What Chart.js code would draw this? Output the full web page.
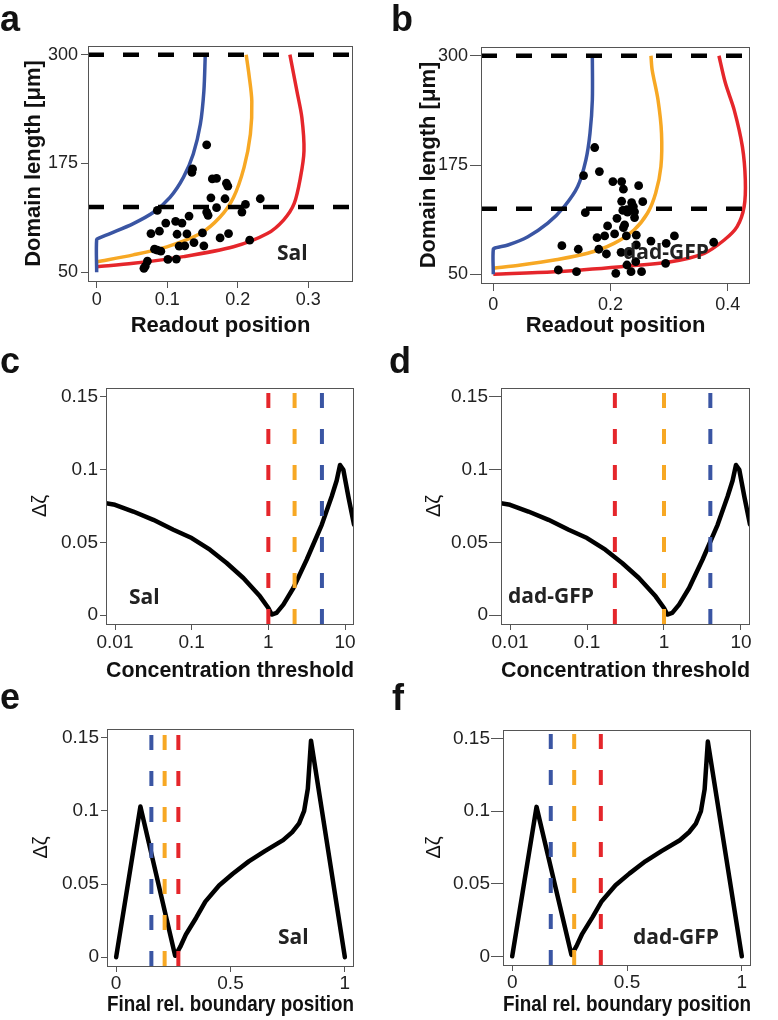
<!DOCTYPE html>
<html><head><meta charset="utf-8">
<script src="https://cdn.jsdelivr.net/npm/chart.js@4.4.1/dist/chart.umd.min.js"></script>
<style>
html,body{margin:0;padding:0;background:#fff;}
body{width:778px;height:1020px;position:relative;overflow:hidden;}
canvas{position:absolute;}
.lbl{position:absolute;white-space:nowrap;line-height:1;}
.letter{font-family:"Liberation Sans",Arial,sans-serif;font-weight:bold;color:#111;}
.tag{font-family:"Open Sans",sans-serif;font-weight:bold;color:#222;}
</style></head><body>
<script>
// ---------- data ----------
const lengthTicks = [50, 175, 300];
const readoutTicksSal = [0, 0.1, 0.2, 0.3];
const readoutTicksDad = [0, 0.2, 0.4];
const thresholdTicks = [0.01, 0.1, 1, 10];
const deltaTicks = [0, 0.05, 0.1, 0.15];
const boundaryTicks = [0, 0.5, 1];
const domainLengthGuides = [125, 300];

const salDotsX = [0.156,0.136,0.135,0.164,0.170,0.184,0.186,0.162,0.182,0.232,0.211,0.206,0.170,0.086,0.156,0.158,0.131,0.098,0.112,0.121,0.077,0.089,0.114,0.128,0.150,0.175,0.187,0.138,0.152,0.217,0.082,0.086,0.091,0.117,0.125,0.101,0.113,0.072,0.067,0.069];
const salDotsY = [196.5,168.7,164.8,157.3,158,152.3,148.9,135.6,134.5,134.5,128,119.2,124.2,121.1,119.2,115.4,114.6,106.6,108.6,106.6,94.5,97.2,93.7,94.1,95.2,89.5,94.5,84.2,80.4,86.9,76.6,75.5,74.3,80,80.4,64.8,65.2,62.9,54.6,57.2];

const dadDotsX = [0.173,0.154,0.181,0.204,0.219,0.222,0.248,0.219,0.236,0.239,0.255,0.157,0.221,0.228,0.236,0.241,0.229,0.211,0.241,0.195,0.224,0.222,0.177,0.190,0.207,0.227,0.244,0.117,0.145,0.180,0.193,0.218,0.244,0.269,0.295,0.309,0.376,0.228,0.243,0.294,0.111,0.142,0.209,0.235,0.253,0.232];
const dadDotsY = [195,162.9,167.5,156,156,147.3,151.4,133.5,132,127.4,133,120.5,123,124,125.5,121.5,121,114,114.8,105.3,106.4,103.3,91.9,93.8,96.1,93.8,94.7,82.7,78.6,78.6,73.2,75.1,83.5,88,85.4,93.8,86.6,60.6,64.4,62.5,54.9,53,51.1,53,53,76];

const salBlueX = [0,0,0.004,0.019,0.052,0.0806,0.104,0.123,0.137,0.147,0.152,0.154];
const salBlueY = [50,87.7,89.6,94.5,106,119,136,159,186,220,258,300];
const salOrangeX = [0,0.052,0.0995,0.147,0.175,0.194,0.209,0.218,0.220,0.216,0.212];
const salOrangeY = [62,70,79.3,94.5,113.5,136,170.6,208.7,246.7,277,300];
const salRedX = [0,0.052,0.123,0.194,0.242,0.265,0.280,0.289,0.294,0.291,0.284,0.274];
const salRedY = [56.5,60.3,68,79.3,94.5,110,128.8,159,189.7,227.7,258,300];

const dadBlueX = [0,0,0.005,0.025,0.059,0.093,0.121,0.144,0.158,0.165,0.169,0.169];
const dadBlueY = [50,78.6,80.4,83.5,93,108.4,127.4,150.3,180.9,211.4,249.6,300];
const dadOrangeX = [0,0.047,0.104,0.161,0.206,0.240,0.263,0.277,0.286,0.287,0.281,0.271,0.269];
const dadOrangeY = [56.8,60.6,66.3,74,85.4,100.7,119.8,142.7,173.2,211.4,249.6,284,300];
const dadRedX = [0,0.104,0.218,0.303,0.360,0.394,0.416,0.428,0.430,0.425,0.411,0.396,0.385];
const dadRedY = [50,52.9,58.7,64.4,74,89.2,104.5,127.4,157.9,196,238.1,268.7,300];

const thresholdX = [0.00763,0.01,0.0173,0.0316,0.0577,0.1,0.173,0.286,0.472,0.778,1.0,1.105,1.28,1.57,2.12,3.16,4.97,6.7,7.79,8.61,9.51,11.05,13.1];
const thresholdDz = [0.0769,0.0758,0.0712,0.0655,0.0587,0.053,0.045,0.0359,0.0256,0.013,0.005,0.0005,0.0016,0.0073,0.0187,0.0381,0.0621,0.0815,0.0925,0.1032,0.0999,0.0815,0.0623];

const boundaryX = [0,0.106,0.258,0.28,0.305,0.35,0.39,0.45,0.51,0.58,0.65,0.73,0.77,0.80,0.822,0.838,0.852,1.0];
const boundaryDz = [0,0.103,0.001,0.007,0.0155,0.027,0.038,0.049,0.057,0.0655,0.0725,0.080,0.0855,0.0915,0.100,0.115,0.148,0];

// marks in order red, orange, blue
const salThresholdMarks = [1, 2.2, 5];
const dadThresholdMarks = [0.23, 1, 4];
const salBoundaryMarks = [0.272, 0.212, 0.154];
const dadBoundaryMarks = [0.386, 0.27, 0.168];

// ---------- styling ----------
const RED = '#e5262b', ORANGE = '#f7a824', BLUE = '#3a55a3';
const markColors = [RED, ORANGE, BLUE];
const FRAME = '#555';
const SANS = '"Liberation Sans", Arial, sans-serif';

const zip = (xs, ys) => xs.map((x, i) => ({x, y: ys[i]}));

const framePlugin = {
  id: 'frame',
  afterDatasetsDraw(chart) {
    const {ctx, chartArea: a} = chart;
    ctx.save();
    ctx.strokeStyle = FRAME; ctx.lineWidth = 1;
    ctx.strokeRect(Math.round(a.left) + 0.5, Math.round(a.top) + 0.5,
                   Math.round(a.right - a.left) - 1, Math.round(a.bottom - a.top));
    ctx.restore();
  }
};

function lineDS(data, color, width, order, extra) {
  return Object.assign({data, showLine: true, borderColor: color, backgroundColor: color,
    borderWidth: width, pointRadius: 0, pointHoverRadius: 0, tension: 0, order, clip: 0}, extra || {});
}

function panel(g, cfg) {
  const c = document.createElement('canvas');
  c.width = g.w; c.height = g.h;
  c.style.left = g.x + 'px'; c.style.top = g.y + 'px';
  document.body.appendChild(c);
  const L = g.L - g.x, T = g.T - g.y, R = g.R - g.x, B = g.B - g.y;
  const pl = g.ytc - g.x - cfg.yTitleSize / 2;
  const Wy = L - pl;
  const Hx = g.h - B;
  const tickFont = {family: SANS, size: cfg.tickSize};
  new Chart(c, {
    type: 'scatter',
    data: {datasets: cfg.datasets},
    options: {
      responsive: false, animation: false, devicePixelRatio: 1,
      events: [],
      layout: {padding: {left: pl, top: T, right: g.w - R, bottom: 0}},
      plugins: {legend: {display: false}, tooltip: {enabled: false}},
      scales: {
        x: {
          type: cfg.xType, min: cfg.xMin, max: cfg.xMax,
          afterBuildTicks: s => { s.ticks = cfg.xTicks.map(v => ({value: v})); },
          afterFit: s => { s.height = Hx; s.paddingLeft = 0; s.paddingRight = 0; },
          ticks: {callback: v => String(v), font: tickFont, color: '#222', padding: cfg.xPad,
                  maxRotation: 0, autoSkip: false},
          grid: {display: true, drawOnChartArea: false, drawTicks: true, tickLength: cfg.xTL,
                 color: FRAME, tickColor: FRAME, tickWidth: 1},
          border: {display: false},
          title: {display: true, text: cfg.xTitle, color: '#111', padding: 0,
                  font: {family: SANS, size: 22, weight: 'bold', lineHeight: 1}}
        },
        y: {
          type: 'linear', min: cfg.yMin, max: cfg.yMax,
          afterBuildTicks: s => { s.ticks = cfg.yTicks.map(v => ({value: v})); },
          afterFit: s => { s.width = Wy; s.paddingTop = 0; s.paddingBottom = 0; },
          ticks: {callback: v => String(v), font: tickFont, color: '#222', padding: cfg.yPad,
                  autoSkip: false},
          grid: {display: true, drawOnChartArea: false, drawTicks: true, tickLength: cfg.yTL,
                 color: FRAME, tickColor: FRAME, tickWidth: 1},
          border: {display: false},
          title: {display: true, text: cfg.yTitle, color: '#111', padding: 0,
                  font: {family: SANS, size: cfg.yTitleSize, weight: cfg.yTitleWeight, lineHeight: 1}}
        }
      }
    },
    plugins: [framePlugin]
  });
}

function readoutDatasets(xMin, xMax, blue, orange, red, dots) {
  const ds = [];
  domainLengthGuides.forEach(v => ds.push(lineDS([{x: xMin, y: v}, {x: xMax, y: v}], '#000', 4.5, 0,
    {borderDash: [16, 19]})));
  ds.push({data: dots, showLine: false, pointRadius: 4.4, pointHoverRadius: 4.4,
           pointBackgroundColor: '#000', pointBorderWidth: 0, order: 1});
  ds.push(lineDS(blue, BLUE, 3.5, 2, {tension: 0.3, borderJoinStyle: 'round'}));
  ds.push(lineDS(orange, ORANGE, 3.5, 2, {tension: 0.3, borderJoinStyle: 'round'}));
  ds.push(lineDS(red, RED, 3.5, 2, {tension: 0.3, borderJoinStyle: 'round'}));
  return ds;
}

function deltaDatasets(curve, marks, yMin, yMax) {
  const ds = [];
  marks.forEach((m, i) => ds.push(lineDS([{x: m, y: yMin}, {x: m, y: yMax}], markColors[i], 4, 0,
    {borderDash: [15, 21]})));
  ds.push(lineDS(curve, '#000', 4.5, 1, {borderJoinStyle: 'round', borderCapStyle: 'round'}));
  return ds;
}

// ---------- panels ----------
const RY = [40, 310];
panel({x: 0, y: 0, w: 389, h: 337, L: 88, T: 46, R: 353, B: 281, ytc: 34}, {
  xType: 'linear', xMin: -0.0123, xMax: 0.3635, xTicks: readoutTicksSal,
  yMin: RY[0], yMax: RY[1], yTicks: lengthTicks,
  xTitle: 'Readout position', yTitle: 'Domain length [μm]', yTitleSize: 22, yTitleWeight: 'bold',
  tickSize: 18, xTL: 7, xPad: 1, yTL: 7, yPad: 3,
  datasets: readoutDatasets(-0.0123, 0.3635, zip(salBlueX, salBlueY), zip(salOrangeX, salOrangeY),
                            zip(salRedX, salRedY), zip(salDotsX, salDotsY))
});
panel({x: 389, y: 0, w: 389, h: 337, L: 481, T: 47, R: 750, B: 283, ytc: 429}, {
  xType: 'linear', xMin: -0.021, xMax: 0.438, xTicks: readoutTicksDad,
  yMin: RY[0], yMax: RY[1], yTicks: lengthTicks,
  xTitle: 'Readout position', yTitle: 'Domain length [μm]', yTitleSize: 22, yTitleWeight: 'bold',
  tickSize: 18, xTL: 8, xPad: 3, yTL: 11, yPad: 2,
  datasets: readoutDatasets(-0.021, 0.438, zip(dadBlueX, dadBlueY), zip(dadOrangeX, dadOrangeY),
                            zip(dadRedX, dadRedY), zip(dadDotsX, dadDotsY))
});
const DY = [-0.006, 0.156];
panel({x: 0, y: 340, w: 389, h: 342, L: 106, T: 388, R: 354, B: 624, ytc: 40}, {
  xType: 'logarithmic', xMin: 0.00763, xMax: 13.1, xTicks: thresholdTicks,
  yMin: DY[0], yMax: DY[1], yTicks: deltaTicks,
  xTitle: 'Concentration threshold', yTitle: 'Δζ', yTitleSize: 20, yTitleWeight: 'normal',
  tickSize: 19, xTL: 6, xPad: 1, yTL: 6, yPad: 2,
  datasets: deltaDatasets(zip(thresholdX, thresholdDz), salThresholdMarks, DY[0], DY[1])
});
panel({x: 389, y: 340, w: 389, h: 342, L: 501, T: 388, R: 750, B: 624, ytc: 434}, {
  xType: 'logarithmic', xMin: 0.00763, xMax: 13.1, xTicks: thresholdTicks,
  yMin: DY[0], yMax: DY[1], yTicks: deltaTicks,
  xTitle: 'Concentration threshold', yTitle: 'Δζ', yTitleSize: 20, yTitleWeight: 'normal',
  tickSize: 19, xTL: 6, xPad: 1, yTL: 12, yPad: 1,
  datasets: deltaDatasets(zip(thresholdX, thresholdDz), dadThresholdMarks, DY[0], DY[1])
});
panel({x: 0, y: 680, w: 389, h: 336, L: 107, T: 729, R: 354, B: 966, ytc: 41}, {
  xType: 'linear', xMin: -0.04, xMax: 1.04, xTicks: boundaryTicks,
  yMin: DY[0], yMax: DY[1], yTicks: deltaTicks,
  xTitle: 'Final rel. boundary position', yTitle: 'Δζ', yTitleSize: 20, yTitleWeight: 'normal',
  tickSize: 19, xTL: 6, xPad: 0, yTL: 6, yPad: 2,
  datasets: deltaDatasets(zip(boundaryX, boundaryDz), salBoundaryMarks, DY[0], DY[1])
});
panel({x: 389, y: 680, w: 389, h: 336, L: 503, T: 730, R: 751, B: 965, ytc: 434}, {
  xType: 'linear', xMin: -0.04, xMax: 1.04, xTicks: boundaryTicks,
  yMin: DY[0], yMax: DY[1], yTicks: deltaTicks,
  xTitle: 'Final rel. boundary position', yTitle: 'Δζ', yTitleSize: 20, yTitleWeight: 'normal',
  tickSize: 19, xTL: 6, xPad: 0, yTL: 12, yPad: 1,
  datasets: deltaDatasets(zip(boundaryX, boundaryDz), dadBoundaryMarks, DY[0], DY[1])
});

// ---------- text labels ----------
function addText(text, x, baseline, cls, size, asc) {
  const d = document.createElement('div');
  d.className = 'lbl ' + cls;
  d.textContent = text;
  d.style.fontSize = size + 'px';
  d.style.left = x + 'px';
  d.style.top = (baseline - asc * size) + 'px';
  document.body.appendChild(d);
}
const LET = 0.8465, OS = 0.888;
addText('a', 0, 31.7, 'letter', 36, LET);
addText('b', 391, 31.7, 'letter', 36, LET);
addText('c', 0, 373.3, 'letter', 36, LET);
addText('d', 389, 373.3, 'letter', 36, LET);
addText('e', 0, 709.3, 'letter', 36, LET);
addText('f', 392, 710, 'letter', 36, LET);
addText('Sal', 277, 260.5, 'tag', 21, OS);
addText('dad-GFP', 623, 260, 'tag', 21, OS);
addText('Sal', 129, 604.3, 'tag', 21, OS);
addText('dad-GFP', 508, 604, 'tag', 21, OS);
addText('Sal', 278, 945, 'tag', 21, OS);
addText('dad-GFP', 633, 945, 'tag', 21, OS);
</script>
</body></html>
